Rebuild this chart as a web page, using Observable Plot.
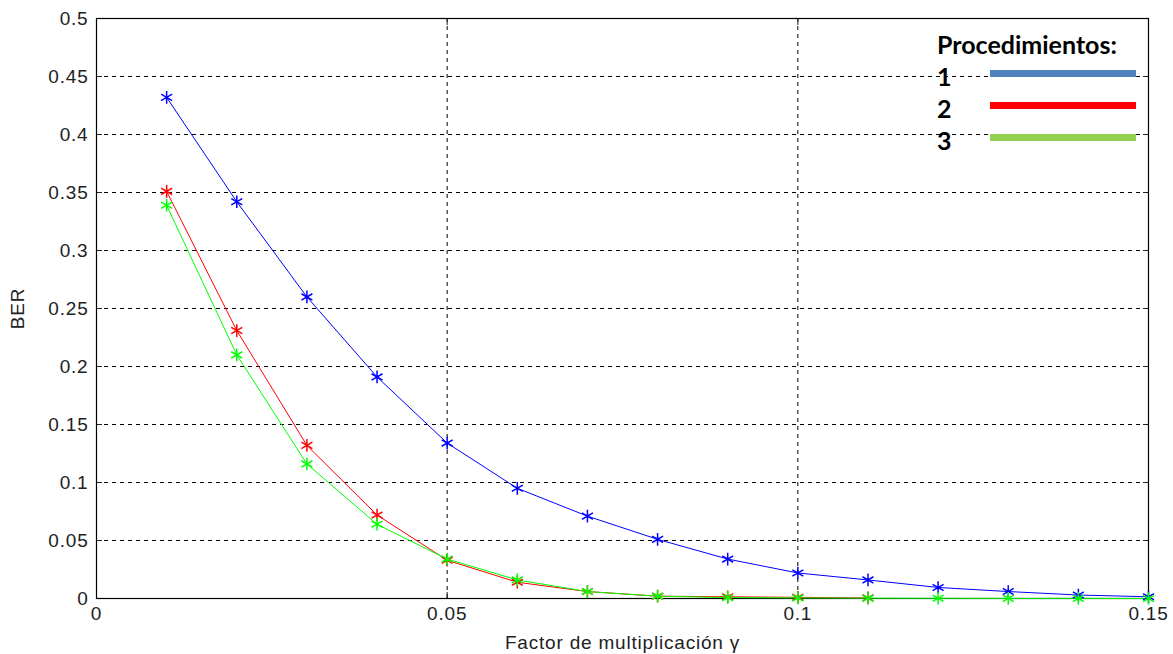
<!DOCTYPE html>
<html><head><meta charset="utf-8">
<script src="https://cdn.jsdelivr.net/npm/d3@7"></script>
<script src="https://cdn.jsdelivr.net/npm/@observablehq/plot@0.6"></script>
<style>
body{margin:0;background:#fff;}
#wrap{position:relative;width:1173px;height:654px;}
#legend{position:absolute;left:937px;top:28px;font-family:Lato,sans-serif;font-weight:bold;font-size:25px;color:#000;line-height:32px;}
#legend .row{position:relative;height:32px;}
#legend .sw{position:absolute;left:53px;width:146px;height:7px;}
</style></head>
<body><div id="wrap"><div id="chart"></div><div id="legend"></div></div>
<script>
const gamma = [0.01,0.02,0.03,0.04,0.05,0.06,0.07,0.08,0.09,0.10,0.11,0.12,0.13,0.14,0.15];
const proc1 = [0.432,0.342,0.260,0.191,0.134,0.095,0.071,0.051,0.034,0.022,0.016,0.0095,0.006,0.003,0.0015];
const proc2 = [0.351,0.231,0.132,0.072,0.033,0.014,0.006,0.002,0.0015,0.001,0.0005];
const proc3 = [0.339,0.210,0.116,0.064,0.034,0.016,0.006,0.002,0.0008,0.0005,0.0003,0.0002,0.0001,0.0001,0.0];
const seriesNames = ["1","2","3"];
const lineColors = ["#0000ff","#ff0000","#00ff00"];
const legendColors = ["#4f81bd","#ff0000","#92d050"];
const xTicks = [0,0.05,0.1,0.15];
const yTicks = [0,0.05,0.1,0.15,0.2,0.25,0.3,0.35,0.4,0.45,0.5];
const xTickLabels = ["0","0.05","0.1","0.15"];
const yTickLabels = ["0","0.05","0.1","0.15","0.2","0.25","0.3","0.35","0.4","0.45","0.5"];

const rows = [];
[proc1,proc2,proc3].forEach((arr,i)=>arr.forEach((v,j)=>rows.push({x:gamma[j],y:v,s:seriesNames[i]})));

const fx = d => xTickLabels[xTicks.indexOf(d)];
const fy = d => yTickLabels[yTicks.indexOf(d)];

const chart = Plot.plot({
  width:1173, height:654,
  marginLeft:96, marginRight:25, marginTop:18, marginBottom:56,
  style:{fontFamily:"'Liberation Sans', Arial, sans-serif", fontSize:"19px", color:"#222", letterSpacing:"0.8px"},
  x:{domain:[0,0.15]},
  y:{domain:[0,0.5]},
  color:{domain:seriesNames, range:lineColors},
  marks:[
    Plot.gridX(xTicks.filter(d=>d>0&&d<0.15),{stroke:"#000",strokeOpacity:1,strokeDasharray:"4,4",strokeWidth:1}),
    Plot.gridY(yTicks.filter(d=>d>0&&d<0.5),{stroke:"#000",strokeOpacity:1,strokeDasharray:"4,4",strokeWidth:1}),
    Plot.axisX({ticks:xTicks, tickFormat:fx, tickSize:-6, tickPadding:14, label:"Factor de multiplicación γ", labelAnchor:"center", labelArrow:"none", labelOffset:50, fontSize:19}),
    Plot.axisY({ticks:yTicks, tickFormat:fy, tickSize:-6, tickPadding:14, label:"BER", labelAnchor:"center", labelArrow:"none", labelOffset:86, fontSize:19}),
    Plot.axisY({ticks:yTicks, anchor:"right", tickSize:-6, tickFormat:()=>"", label:null}),
    Plot.axisX({ticks:xTicks, anchor:"top", tickSize:-6, tickFormat:()=>"", label:null}),
    Plot.frame({stroke:"#000",strokeWidth:1.2}),
    Plot.line(rows,{x:"x",y:"y",z:"s",stroke:"s",strokeWidth:1}),
    Plot.dot(rows,{x:"x",y:"y",stroke:"s",symbol:"asterisk",r:6,strokeWidth:1.5})
  ]
});
document.getElementById("chart").appendChild(chart);

const lg = document.getElementById("legend");
const title = document.createElement("div"); title.textContent="Procedimientos:"; title.style.height="32px"; lg.appendChild(title);
seriesNames.forEach((n,i)=>{
  const r=document.createElement("div"); r.className="row";
  r.innerHTML=`<span>${n}</span><div class="sw" style="top:10px;background:${legendColors[i]}"></div>`;
  lg.appendChild(r);
});
</script></body></html>
